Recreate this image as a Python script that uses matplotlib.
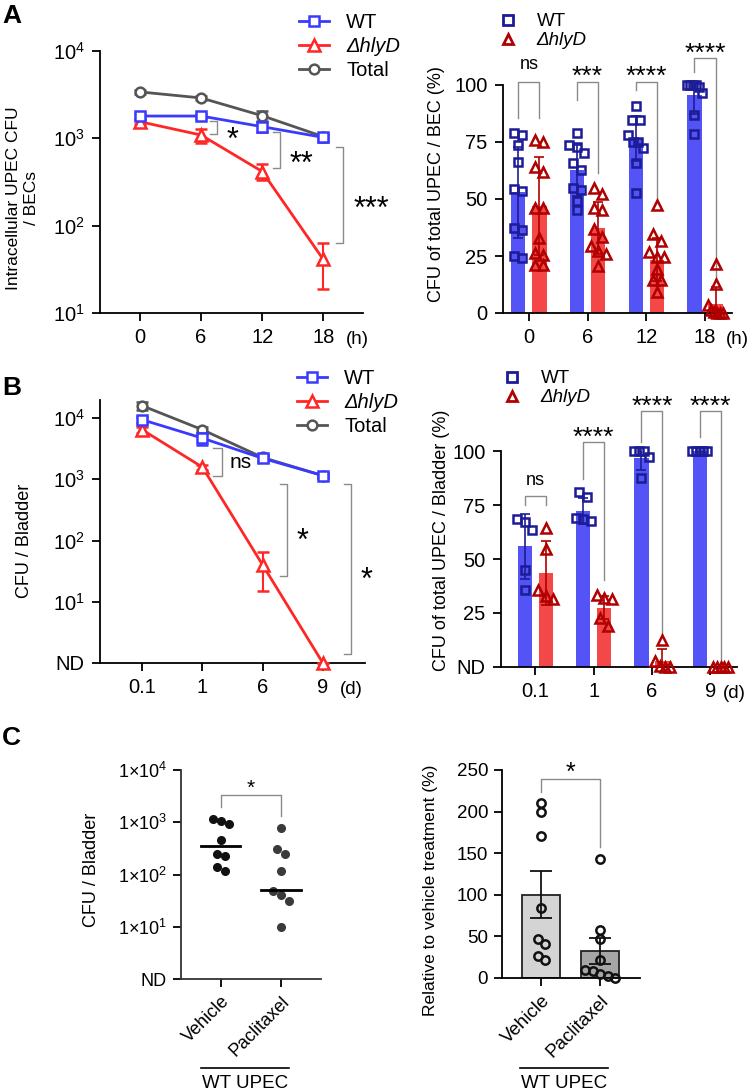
import matplotlib
matplotlib.use('Agg')
import matplotlib.pyplot as plt
import numpy as np
from matplotlib.lines import Line2D

plt.rcParams['font.family'] = ['Liberation Sans', 'DejaVu Sans']
plt.rcParams['mathtext.fontset'] = 'custom'
plt.rcParams['mathtext.rm'] = 'Liberation Sans'
plt.rcParams['mathtext.it'] = 'Liberation Sans:italic'
plt.rcParams['mathtext.default'] = 'regular'
plt.rcParams['axes.linewidth'] = 1.3

# ---------------- data ----------------
# Panel A left (intracellular CFU, log)
hours = [0, 6, 12, 18]
a_wt = [1800, 1800, 1360, 1025]
a_wt_err = [120, 110, 180, 110]
a_hly = [1550, 1090, 417, 41]
a_hly_err = [100, 200, 85, 22]
a_tot = [3400, 2900, 1815, 1045]
a_tot_err = [150, 120, 250, 80]

# Panel A right (% of total per BEC)
hour_labels = ['0', '6', '12', '18']
ar_wt_mean = [53.0, 62.5, 76.6, 95.6]
ar_wt_sd = [20.0, 11.0, 10.0, 8.5]
ar_hly_mean = [47.0, 37.2, 23.4, 3.9]
ar_hly_sd = [21.5, 11.5, 9.5, 7.5]
ar_wt_pts = [[78.8, 78.1, 73.7, 66.4, 54.3, 53.3, 37.2, 36.5, 24.8, 24.1],
             [79, 73.7, 72.7, 70, 66, 62.5, 55, 54, 49, 45],
             [91, 84.5, 84.5, 78, 75, 75, 72.5, 66, 52.5],
             [100, 100, 100, 100, 99, 96.5, 87, 78.5]]
ar_hly_pts = [[75.9, 75.2, 64.2, 62.0, 46, 46, 32.8, 26.3, 25.5, 21.2, 21.2],
              [55, 52, 46, 45, 37, 33.5, 29.5, 27, 26, 20.5],
              [47.5, 34.5, 31.5, 26.7, 24.5, 24.5, 19.5, 14.5, 14.5, 9],
              [21.5, 12.8, 3.5, 1.5, 0.5, 0, 0, 0]]
ar_sig = ['ns', '***', '****', '****']

# Panel B left (CFU / bladder, log; ND plotted at 1)
day_labels = ['0.1', '1', '6', '9']
b_wt = [9400, 4700, 2200, 1150]
b_wt_err = [1200, 1100, 250, 100]
b_hly = [6450, 1580, 40, 1]
b_hly_err = [700, 150, 25, 0]
b_tot = [15900, 6450, 2270, 1150]
b_tot_err = [2500, 700, 250, 100]

# Panel B right (% of total per bladder)
br_wt_mean = [55.9, 72.2, 96.9, 100]
br_wt_sd = [15, 6, 5.5, 0]
br_hly_mean = [43.5, 27.5, 2.8, 0]
br_hly_sd = [15, 5.5, 5.5, 0]
br_wt_pts = [[68.5, 67, 63.5, 45, 35.5], [81, 78.5, 69, 68.5, 67.5],
             [100, 100, 100, 97, 87.5], [100, 100, 100, 100, 100]]
br_hly_pts = [[64.3, 54.8, 35.5, 32.7, 31.6], [33.5, 32, 31.5, 22.5, 19],
              [12.5, 3, 0.5, 0, 0], [0, 0, 0, 0, 0]]
br_sig = ['ns', '****', '****', '****']

# Panel C
groups_c = ['Vehicle', 'Paclitaxel']
veh_cfu = [1140, 910, 1075, 457, 228, 248, 115, 141]
pac_cfu = [767, 305, 251, 117, 41, 49, 30.5, 10]
cfu_median = [358, 51]
veh_rel = [209.9, 199.8, 170.5, 84.7, 47, 40.5, 26.5, 21.3]
pac_rel = [142.5, 57.4, 47.4, 22.1, 10, 8, 5.2, 2, 0]

# ---------------- styles ----------------
BLUE = '#3a3aff'
RED = '#ff2626'
GRAY = '#555555'
NAVY = '#1c1c96'
DRED = '#b00000'
BAR_BLUE = '#5454f6'
BAR_RED = '#f44848'
BRK = '#8a8a8a'
TICK_FS = 14.5

W, H = 750, 1092
fig = plt.figure(figsize=(W / 100, H / 100), dpi=100)


def ax_px(x0, x1, ytop, ybot):
    return fig.add_axes([x0 / W, 1 - ybot / H, (x1 - x0) / W, (ybot - ytop) / H])


def clean(ax, tick_fs=TICK_FS, pad=5):
    ax.spines['top'].set_visible(False)
    ax.spines['right'].set_visible(False)
    ax.tick_params(axis='both', which='major', labelsize=tick_fs, length=6, width=1.3, pad=pad)
    ax.tick_params(axis='both', which='minor', length=0)


def ylab(ax, text, fs, xfrac, yfrac, **kw):
    ax.set_ylabel(text, fontsize=fs, **kw)
    ax.yaxis.set_label_coords(xfrac, yfrac)


def swarm(ax, ys, d_px=8.0, maxw=15.0):
    ys = np.asarray(ys, float)
    py = ax.transData.transform(np.column_stack([np.zeros_like(ys), ys]))[:, 1]
    order = np.argsort(-py, kind='stable')
    offs = np.zeros(len(ys))

    def flush(cl):
        n = len(cl)
        if n == 1:
            return
        step = min(d_px, maxw / (n - 1))
        for j, idx in enumerate(cl):
            offs[idx] = (j - (n - 1) / 2) * step

    cl = [order[0]]
    for a, b in zip(order[:-1], order[1:]):
        if abs(py[a] - py[b]) < d_px:
            cl.append(b)
        else:
            flush(cl)
            cl = [b]
    flush(cl)
    x0 = ax.transData.transform((0, 1))[0]
    x1 = ax.transData.transform((1, 1))[0]
    return offs / (x1 - x0)


def star_text(ax, x, y, s, fs, **kw):
    # asterisks in Arial-like fonts sit high; nudge down so they centre on y
    shift = -0.30 * fs if '*' in s else 0
    ax.annotate(s, xy=(x, y), xycoords='data', xytext=(0, shift), textcoords='offset points',
                ha='center', va='center', fontsize=fs, annotation_clip=False)


def vbracket(ax, xs, xv, ytop, ybot):
    ax.plot([xs, xv, xv, xs], [ytop, ytop, ybot, ybot], color=BRK, lw=1.0, clip_on=False)


def hbracket(ax, xl, xr, ytop, yl, yr):
    ax.plot([xl, xl, xr, xr], [yl, ytop, ytop, yr], color=BRK, lw=1.0, clip_on=False)


def unit_label(ax, x, s):
    ax.annotate(s, xy=(x, 0), xycoords=('data', 'axes fraction'), xytext=(0, -26),
                textcoords='offset pixels', ha='center', va='center', fontsize=13.5,
                annotation_clip=False)


def line_legend(ax, x_px, y_px, spacing):
    handles = [Line2D([], [], color=BLUE, marker='s', mfc='white', mec=BLUE, ms=7, mew=1.8, lw=2),
               Line2D([], [], color=RED, marker='^', mfc='white', mec=RED, ms=8, mew=1.8, lw=2),
               Line2D([], [], color=GRAY, marker='o', mfc='white', mec=GRAY, ms=7, mew=1.8, lw=2)]
    leg = ax.legend(handles, ['WT', '\u0394hlyD', 'Total'], loc='upper left',
                    bbox_to_anchor=(x_px / W, 1 - y_px / H), bbox_transform=fig.transFigure,
                    frameon=False, fontsize=14.5, handlelength=1.5, handletextpad=0.85,
                    labelspacing=spacing, borderpad=0, borderaxespad=0)
    leg.get_texts()[1].set_fontstyle('italic')


def marker_legend(ax, x_px, y_px):
    handles = [Line2D([], [], ls='none', marker='s', mfc='none', mec=NAVY, ms=7, mew=2),
               Line2D([], [], ls='none', marker='^', mfc='none', mec=DRED, ms=7, mew=2)]
    leg = ax.legend(handles, ['WT', '\u0394hlyD'], loc='upper left',
                    bbox_to_anchor=(x_px / W, 1 - y_px / H), bbox_transform=fig.transFigure,
                    frameon=False, fontsize=13.5, handlelength=1.0, handletextpad=1.0,
                    labelspacing=0.1, borderpad=0, borderaxespad=0)
    leg.get_texts()[1].set_fontstyle('italic')


def line_panel(ax, xs, wt, wte, hly, hlye, tot, tote):
    kw = dict(lw=2.0, ms=7, mew=1.8, mfc='white', capsize=4, elinewidth=1.5, capthick=1.5)
    ax.errorbar(xs, tot, yerr=tote, color=GRAY, marker='o', zorder=3, **kw)
    ax.errorbar(xs, hly, yerr=hlye, color=RED, marker='^', zorder=4, clip_on=False,
                **{**kw, 'ms': 8})
    ax.errorbar(xs, wt, yerr=wte, color=BLUE, marker='s', zorder=5, **kw)


def bar_panel(ax, wt_m, wt_s, hly_m, hly_s, wt_p, hly_p):
    n = len(wt_m)
    x = np.arange(n)
    off, bw = 0.18, 0.245
    ax.bar(x - off, wt_m, width=bw, color=BAR_BLUE, zorder=1)
    ax.bar(x + off, hly_m, width=bw, color=BAR_RED, zorder=1)
    ax.errorbar(x - off, wt_m, yerr=wt_s, fmt='none', ecolor=NAVY, elinewidth=1.2,
                capsize=3.5, capthick=1.2, zorder=2)
    ax.errorbar(x + off, hly_m, yerr=hly_s, fmt='none', ecolor=DRED, elinewidth=1.2,
                capsize=3.5, capthick=1.2, zorder=2)
    for i in range(n):
        dx = swarm(ax, wt_p[i])
        ax.plot(x[i] - off + dx, wt_p[i], ls='none', marker='s', ms=6, mfc='none',
                mec=NAVY, mew=1.8, zorder=3, clip_on=False)
        dx = swarm(ax, hly_p[i])
        ax.plot(x[i] + off + dx, hly_p[i], ls='none', marker='^', ms=6.5, mfc='none',
                mec=DRED, mew=1.8, zorder=3, clip_on=False)
    return x, off


# ================= Panel A left =================
ax = ax_px(100, 363, 51, 313)
ax.set_yscale('log')
ax.set_ylim(10, 1e4)
ax.set_xlim(-3.93, 21.9)
clean(ax)
ax.set_xticks(hours)
ax.set_xticklabels([str(h) for h in hours])
ax.set_yticks([10, 100, 1000, 10000])
ax.set_yticklabels([r'$10^1$', r'$10^2$', r'$10^3$', r'$10^4$'])
line_panel(ax, hours, a_wt, a_wt_err, a_hly, a_hly_err, a_tot, a_tot_err)
ylab(ax, 'Intracellular UPEC CFU\n/ BECs', 12.5, -0.232, 0.44, linespacing=1.25)
unit_label(ax, 21.3, '(h)')
vbracket(ax, 6.9, 7.55, 10 ** 3.20, 10 ** 3.05)
star_text(ax, 9.1, 10 ** 3.07, '*', 22)
vbracket(ax, 13.1, 13.75, 10 ** 3.068, 10 ** 2.665)
star_text(ax, 15.9, 10 ** 2.80, '**', 22)
vbracket(ax, 19.25, 19.95, 10 ** 2.897, 10 ** 1.80)
star_text(ax, 22.7, 10 ** 2.29, '***', 22)
line_legend(ax, 299, 13, 0.25)

# ================= Panel A right =================
ax = ax_px(503, 732, 85, 313)
ax.set_ylim(0, 100)
ax.set_xlim(-0.44, 3.46)
clean(ax)
x, off = bar_panel(ax, ar_wt_mean, ar_wt_sd, ar_hly_mean, ar_hly_sd, ar_wt_pts, ar_hly_pts)
ax.set_xticks(x)
ax.set_xticklabels(hour_labels)
ax.set_yticks([0, 25, 50, 75, 100])
ylab(ax, 'CFU of total UPEC / BEC (%)', 13, -0.253, 0.566)
unit_label(ax, 3.55, '(h)')
ar_br = [(101.5, 85.4, 85.4), (101.5, 93.4, 61.3), (101.5, 97.8, 50.4), (111.7, 105.8, 13.9)]
for i, (top, yl, yr) in enumerate(ar_br):
    hbracket(ax, x[i] - off, x[i] + off, top, yl, yr)
    if ar_sig[i] == 'ns':
        star_text(ax, x[i], top + 7.5, 'ns', 13)
    else:
        star_text(ax, x[i], top + 5.5, ar_sig[i], 19)
marker_legend(ax, 499, 13)

# ================= Panel B left =================
ax = ax_px(100, 365, 400, 663)
ax.set_yscale('log')
ax.set_ylim(1, 10 ** 4.295)
ax.set_xlim(-0.70, 3.70)
clean(ax)
xb = np.arange(len(day_labels))
ax.set_xticks(xb)
ax.set_xticklabels(day_labels)
ax.set_yticks([1, 10, 100, 1000, 10000])
ax.set_yticklabels(['ND', r'$10^1$', r'$10^2$', r'$10^3$', r'$10^4$'])
line_panel(ax, xb, b_wt, b_wt_err, b_hly, b_hly_err, b_tot, b_tot_err)
ylab(ax, 'CFU / Bladder', 13, -0.253, 0.464)
unit_label(ax, 3.48, '(d)')
vbracket(ax, 1.18, 1.32, 10 ** 3.51, 10 ** 3.06)
star_text(ax, 1.64, 10 ** 3.28, 'ns', 15)
vbracket(ax, 2.29, 2.41, 10 ** 2.92, 10 ** 1.42)
star_text(ax, 2.67, 10 ** 2.12, '*', 22)
vbracket(ax, 3.35, 3.47, 10 ** 2.92, 10 ** 0.154)
star_text(ax, 3.73, 10 ** 1.49, '*', 22)
line_legend(ax, 297, 369, 0.25)

# ================= Panel B right =================
ax = ax_px(501, 737, 451, 667)
ax.set_ylim(0, 100)
ax.set_xlim(-0.59, 3.46)
clean(ax)
x, off = bar_panel(ax, br_wt_mean, br_wt_sd, br_hly_mean, br_hly_sd, br_wt_pts, br_hly_pts)
ax.set_xticks(x)
ax.set_xticklabels(day_labels)
ax.set_yticks([0, 25, 50, 75, 100])
ax.set_yticklabels(['ND', '25', '50', '75', '100'])
ylab(ax, 'CFU of total UPEC / Bladder (%)', 13, -0.215, 0.588)
unit_label(ax, 3.41, '(d)')
br_br = [(79.2, 74.8, 74.8), (104.2, 87.2, 40.1), (118.4, 104.2, 14.7), (118.4, 106.5, 1.5)]
for i, (top, yl, yr) in enumerate(br_br):
    hbracket(ax, x[i] - off, x[i] + off, top, yl, yr)
    if br_sig[i] == 'ns':
        star_text(ax, x[i], top + 7.0, 'ns', 13)
    else:
        star_text(ax, x[i], top + 5.5, br_sig[i], 19)
marker_legend(ax, 503, 370)

# ================= Panel C left =================
ax = ax_px(181, 321, 770, 979)
ax.set_yscale('log')
ax.set_ylim(1, 1e4)
ax.set_xlim(-0.66, 1.67)
clean(ax, tick_fs=13, pad=4)
ax.spines['left'].set_color('#333333')
ax.spines['bottom'].set_color('#333333')
ax.set_yticks([1, 10, 100, 1000, 10000])
ax.set_yticklabels(['ND', r'1×10$^1$', r'1×10$^2$', r'1×10$^3$', r'1×10$^4$'])
ax.set_xticks([0, 1])
ax.set_xticklabels(groups_c, rotation=45, ha='right', rotation_mode='anchor', fontsize=13)
for i, (vals, col) in enumerate([(veh_cfu, '#111111'), (pac_cfu, '#3a3a3a')]):
    dx = swarm(ax, vals, d_px=8, maxw=24)
    ax.plot(i + dx, vals, ls='none', marker='o', ms=5.5, color=col, zorder=3)
    ax.plot([i - 0.33, i + 0.33], [cfu_median[i]] * 2, color='black', lw=2, zorder=4)
ylab(ax, 'CFU / Bladder', 13, -0.579, 0.52)
hbracket(ax, 0, 1, 10 ** 3.52, 10 ** 3.287, 10 ** 3.12)
star_text(ax, 0.5, 10 ** 3.76, '*', 15)

# ================= Panel C right =================
ax = ax_px(502, 640, 770, 978)
ax.set_ylim(0, 250)
ax.set_xlim(-0.67, 1.68)
clean(ax, tick_fs=13.5, pad=4)
ax.set_yticks([0, 50, 100, 150, 200, 250])
rel_groups = [veh_rel, pac_rel]
rel_mean = [np.mean(v) for v in rel_groups]
rel_sem = [np.std(v, ddof=1) / np.sqrt(len(v)) for v in rel_groups]
ax.bar([0, 1], rel_mean, width=0.65, color=['#d4d4d4', '#a6a6a6'], edgecolor='#222222',
       linewidth=1.3, zorder=1)
ax.errorbar([0, 1], rel_mean, yerr=rel_sem, fmt='none', ecolor='#111111', elinewidth=1.3,
            capsize=8, capthick=1.3, zorder=2)
for i, vals in enumerate(rel_groups):
    dx = swarm(ax, vals, d_px=7.5, maxw=30)
    ax.plot(i + dx, vals, ls='none', marker='o', ms=6, mfc='none', mec='#111111', mew=1.8,
            zorder=3, clip_on=False)
ax.set_xticks([0, 1])
ax.set_xticklabels(groups_c, rotation=45, ha='right', rotation_mode='anchor', fontsize=13.5)
ylab(ax, 'Relative to vehicle treatment (%)', 12.5, -0.464, 0.423)
hbracket(ax, 0, 1, 238.8, 224, 157.7)
star_text(ax, 0.5, 256, '*', 18)

# WT UPEC group labels
for (x0, x1) in [(201, 289), (520, 608)]:
    fig.add_artist(Line2D([x0 / W, x1 / W], [1 - 1068 / H] * 2, color='black', lw=1.2,
                          transform=fig.transFigure))
    fig.text((x0 + x1) / 2 / W, 1 - 1084 / H, 'WT UPEC', ha='center', va='center', fontsize=13.5)

# panel letters
for lab, y in [('A', 4), ('B', 376), ('C', 726)]:
    fig.text(2 / W, 1 - y / H, lab, ha='left', va='top', fontsize=19, fontweight='bold')

fig.savefig('out.png', dpi=100)
